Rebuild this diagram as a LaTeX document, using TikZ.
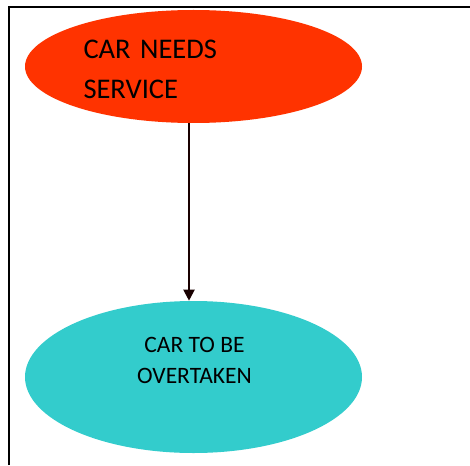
\documentclass[tikz,border=0pt]{standalone}
\usepackage{fontspec}
\setmainfont{Carlito}
\usepackage{tikz}
\usetikzlibrary{shapes.geometric,arrows.meta}
\definecolor{needsred}{HTML}{FF3300}
\definecolor{takencyan}{HTML}{33CCCC}

\begin{document}
\begin{tikzpicture}[x=1pt,y=-1pt,>={Triangle[length=11pt,width=11pt]},semithick]
\tikzstyle{every bubble}=[ellipse,draw=none,inner sep=0pt,minimum width=337pt]
\useasboundingbox (0,0) rectangle (470,465);
% page frame
\draw[line width=2.2pt] (9,465) -- (9,7) -- (470,7);
\node[every bubble,fill=needsred,minimum height=113pt] (needs) at (193.5,66.5) {};
\node[every bubble,fill=takencyan,minimum height=152pt] (overtaken) at (193.5,377) {};
\node[text width=220pt,align=left,font=\fontsize{28.5}{40}\selectfont] (needstext) at (193.5,69.5)
  {CAR NEEDS\\SERVICE};
\node[align=center,font=\fontsize{23.5}{31}\selectfont] (overtakentext) at (194.5,360)
  {CAR TO BE\\OVERTAKEN};
\draw[->,line width=2pt,draw=black!90!red] ([xshift=-4.5pt]needs.south) -- ([xshift=-4.5pt]overtaken.north);
\end{tikzpicture}
\end{document}
